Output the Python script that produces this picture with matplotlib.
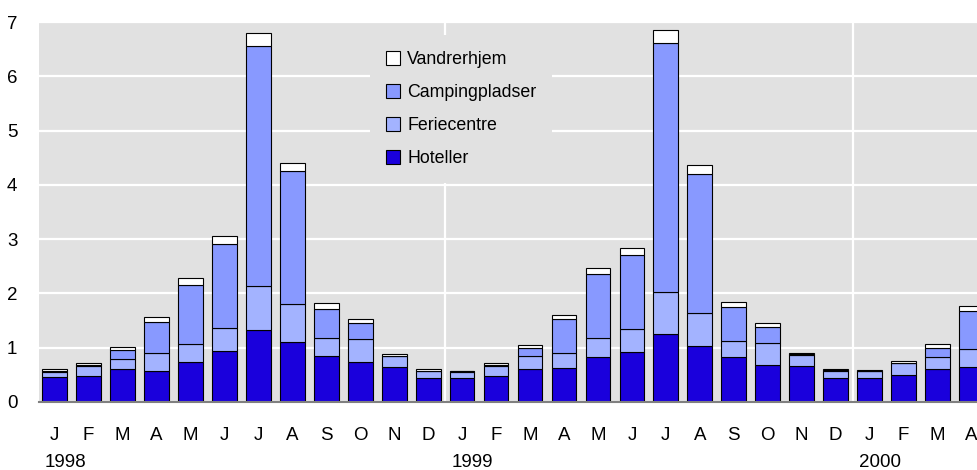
import numpy as np
import matplotlib
matplotlib.use("Agg")
import matplotlib.pyplot as plt

plt.rcParams['font.family'] = ['Liberation Sans', 'DejaVu Sans']

months = ['J', 'F', 'M', 'A', 'M', 'J', 'J', 'A', 'S', 'O', 'N', 'D'] * 2 + ['J', 'F', 'M', 'A']
years = ['1998', '1999', '2000']

hoteller = [0.46, 0.47, 0.60, 0.58, 0.73, 0.94, 1.32, 1.10, 0.84, 0.74, 0.64, 0.44,
            0.44, 0.48, 0.60, 0.62, 0.82, 0.92, 1.26, 1.04, 0.82, 0.69, 0.67, 0.44,
            0.44, 0.49, 0.60, 0.64]
feriecentre = [0.10, 0.20, 0.20, 0.32, 0.34, 0.42, 0.81, 0.71, 0.33, 0.42, 0.20, 0.14,
               0.12, 0.19, 0.24, 0.29, 0.36, 0.42, 0.76, 0.60, 0.30, 0.39, 0.20, 0.14,
               0.13, 0.22, 0.22, 0.33]
camping = [0.02, 0.01, 0.16, 0.58, 1.09, 1.55, 4.43, 2.44, 0.55, 0.29, 0.01, 0.00,
           0.01, 0.02, 0.15, 0.61, 1.18, 1.36, 4.59, 2.56, 0.63, 0.30, 0.01, 0.01,
           0.01, 0.01, 0.17, 0.70]
vandrerhjem = [0.02, 0.03, 0.05, 0.09, 0.13, 0.15, 0.24, 0.16, 0.10, 0.07, 0.03, 0.02,
               0.01, 0.03, 0.06, 0.08, 0.11, 0.13, 0.24, 0.16, 0.09, 0.07, 0.03, 0.01,
               0.01, 0.03, 0.07, 0.10]

fig = plt.figure(figsize=(9.77, 4.70), dpi=100)
ax = fig.add_axes([39/977, 68/470, 938/977, 380/470])
ax.set_facecolor('#e1e1e1')

x = np.arange(len(months))
h = np.array(hoteller)
f = np.array(feriecentre)
c = np.array(camping)
v = np.array(vandrerhjem)
w = 0.73
kw = dict(width=w, edgecolor='black', linewidth=0.8, zorder=3)
b1 = ax.bar(x, h, color='#1a00dc', label='Hoteller', **kw)
b2 = ax.bar(x, f, bottom=h, color='#a3b3ff', label='Feriecentre', **kw)
b3 = ax.bar(x, c, bottom=h + f, color='#8899ff', label='Campingpladser', **kw)
b4 = ax.bar(x, v, bottom=h + f + c, color='white', label='Vandrerhjem', **kw)

ax.set_xlim(-0.456, 27.16)
ax.set_ylim(0, 7)
ax.set_yticks(range(8))
ax.yaxis.grid(True, color='white', linewidth=1.6, zorder=1)
for xv in [11.5, 23.5]:
    ax.axvline(xv, color='white', linewidth=1.6, zorder=1)
ax.set_axisbelow(True)

for s in ['top', 'right', 'left']:
    ax.spines[s].set_visible(False)
ax.spines['bottom'].set_color('#808080')
ax.spines['bottom'].set_linewidth(1.5)
ax.spines['bottom'].set_zorder(4)

ax.set_xticks(x)
ax.set_xticklabels(months)
ax.tick_params(axis='x', length=0, pad=18, labelsize=13.5)
ax.tick_params(axis='y', length=0, pad=23, labelsize=13.5)
for lab in ax.get_yticklabels():
    lab.set_horizontalalignment('left')

for i, yr in enumerate(years):
    ax.text(i * 12 - 0.3, -0.16, yr, transform=ax.get_xaxis_transform(),
            ha='left', va='center', fontsize=13.5)

leg = ax.legend([b4, b3, b2, b1], ['Vandrerhjem', 'Campingpladser', 'Feriecentre', 'Hoteller'],
                loc='upper left', bbox_to_anchor=(361/977, 1 - 26/470),
                bbox_transform=fig.transFigure, frameon=True, fontsize=12.8,
                handlelength=0.8, handleheight=0.8, handletextpad=0.4,
                labelspacing=0.9, borderpad=0.9, fancybox=False)
leg.get_frame().set_facecolor('#e1e1e1')
leg.get_frame().set_edgecolor('none')
leg.get_frame().set_alpha(1)
leg.set_zorder(5)

fig.savefig('out.png', dpi=100)
